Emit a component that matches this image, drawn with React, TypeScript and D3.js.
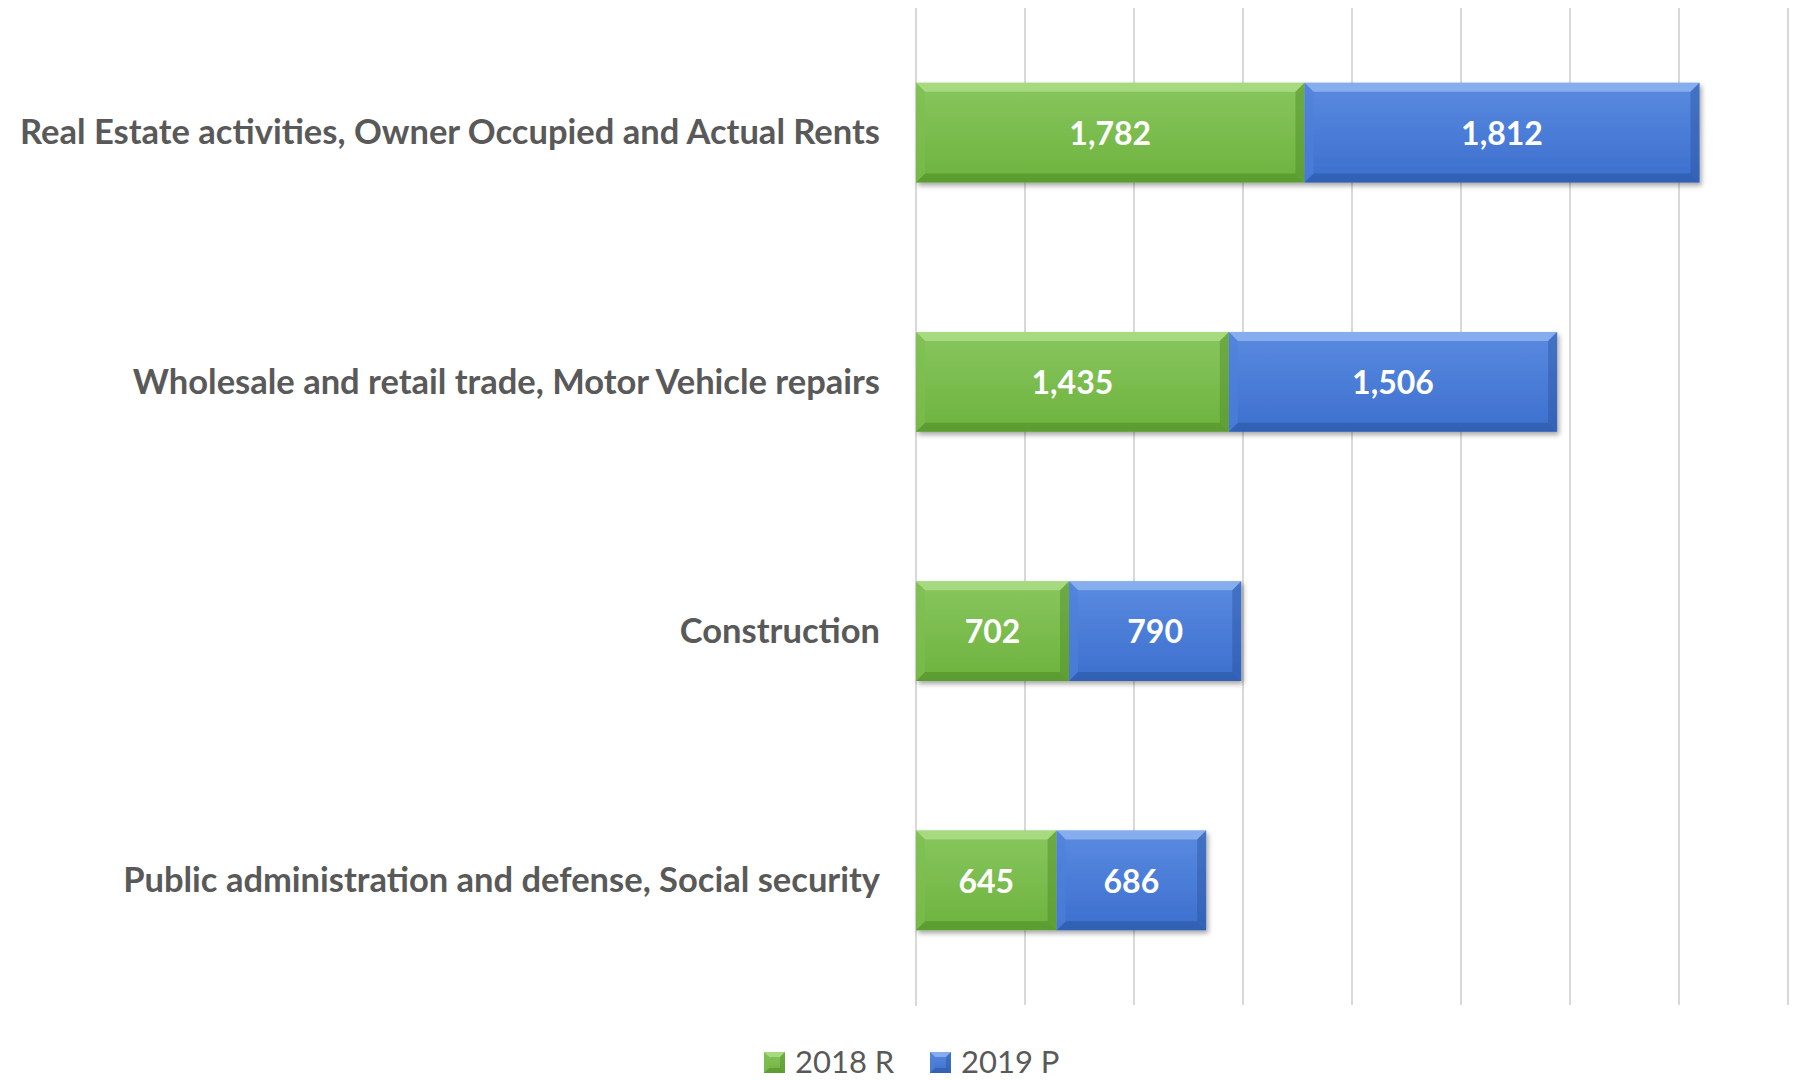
import React from "react";
import * as d3 from "d3";

const categories = [
  "Real Estate activities, Owner Occupied and Actual Rents",
  "Wholesale and retail trade, Motor Vehicle repairs",
  "Construction",
  "Public administration and defense, Social security",
];
const series2018 = [1782, 1435, 702, 645];
const series2019 = [1812, 1506, 790, 686];
const seriesNames = ["2018 R", "2019 P"];
const xTicks = [0, 500, 1000, 1500, 2000, 2500, 3000, 3500, 4000];

const W = 1794;
const H = 1080;
const FONT = "Lato, 'Open Sans', 'DejaVu Sans', sans-serif";

const palettes = [
  { id: "g", top: "#88C65E", bottom: "#6DB33E", light: "#B5E28F", dark: "#4E8A25", side: "#7DBE50" },
  { id: "b", top: "#5A8BE0", bottom: "#3C6FCE", light: "#9ABCF2", dark: "#2A559F", side: "#4E80D8" },
];

function BevelRect({ x, y, w, h, pal, b }: any) {
  const bb = Math.min(b, w / 2, h / 2);
  return (
    <g>
      <rect x={x} y={y} width={w} height={h} fill={`url(#grad-${pal.id})`} />
      <polygon
        points={`${x},${y} ${x + w},${y} ${x + w - bb},${y + bb} ${x + bb},${y + bb}`}
        fill={pal.light}
        opacity={0.7}
      />
      <polygon
        points={`${x},${y + h} ${x + w},${y + h} ${x + w - bb},${y + h - bb} ${x + bb},${y + h - bb}`}
        fill={pal.dark}
        opacity={0.55}
      />
      <polygon
        points={`${x},${y} ${x + bb},${y + bb} ${x + bb},${y + h - bb} ${x},${y + h}`}
        fill={pal.side}
        opacity={0.6}
      />
      <polygon
        points={`${x + w},${y} ${x + w - bb},${y + bb} ${x + w - bb},${y + h - bb} ${x + w},${y + h}`}
        fill={pal.dark}
        opacity={0.45}
      />
    </g>
  );
}

export default function App() {
  const x = d3.scaleLinear().domain([0, 4000]).range([916, 1788]);
  const y = d3
    .scaleBand<string>()
    .domain(categories)
    .range([8, 1005])
    .paddingInner(0.6)
    .paddingOuter(0.3);
  const bw = y.bandwidth();
  const fmt = d3.format(",");

  return (
    <svg
      width={W}
      height={H}
      viewBox={`0 0 ${W} ${H}`}
      style={{ position: "absolute", left: 0, top: 0, background: "#fff" }}
    >
      <defs>
        {palettes.map((p) => (
          <linearGradient key={p.id} id={`grad-${p.id}`} x1="0" y1="0" x2="0" y2="1">
            <stop offset="0%" stopColor={p.top} />
            <stop offset="100%" stopColor={p.bottom} />
          </linearGradient>
        ))}
        <filter id="shadow" x="-5%" y="-20%" width="110%" height="150%">
          <feDropShadow dx="2" dy="3" stdDeviation="2.5" floodColor="#000" floodOpacity="0.35" />
        </filter>
      </defs>
      <rect x={0} y={0} width={W} height={H} fill="#fff" />

      {xTicks.map((t) => (
        <line
          key={t}
          x1={x(t)}
          x2={x(t)}
          y1={8}
          y2={t === 0 ? 1006 : 1005}
          stroke="#D9D9D9"
          strokeWidth={2}
        />
      ))}

      {categories.map((c, i) => {
        const y0 = y(c)!;
        const v1 = series2018[i];
        const v2 = series2019[i];
        const segs = [
          { x0: x(0), x1: x(v1), v: v1, pal: palettes[0] },
          { x0: x(v1), x1: x(v1 + v2), v: v2, pal: palettes[1] },
        ];
        return (
          <g key={c}>
            <g filter="url(#shadow)">
              {segs.map((s, j) => (
                <BevelRect key={j} x={s.x0} y={y0} w={s.x1 - s.x0} h={bw} pal={s.pal} b={9} />
              ))}
            </g>
            {segs.map((s, j) => (
              <text
                key={"t" + j}
                x={(s.x0 + s.x1) / 2}
                y={y0 + bw / 2}
                dy="0.38em"
                textAnchor="middle"
                fill="#fff"
                fontFamily={FONT}
                fontWeight={700}
                fontSize={32}
              >
                {fmt(s.v)}
              </text>
            ))}
            <text
              x={880}
              y={y0 + bw / 2}
              dy="0.34em"
              textAnchor="end"
              fill="#595959"
              fontFamily={FONT}
              fontWeight={700}
              fontSize={34.5}
            >
              {c}
            </text>
          </g>
        );
      })}

      {seriesNames.map((n, i) => {
        const lx = i === 0 ? 764 : 930;
        return (
          <g key={n}>
            <BevelRect x={lx} y={1052} w={21} h={21} pal={palettes[i]} b={5} />
            <text
              x={lx + 31}
              y={1073}
              fill="#595959"
              fontFamily={FONT}
              fontSize={31}
            >
              {n}
            </text>
          </g>
        );
      })}
    </svg>
  );
}
